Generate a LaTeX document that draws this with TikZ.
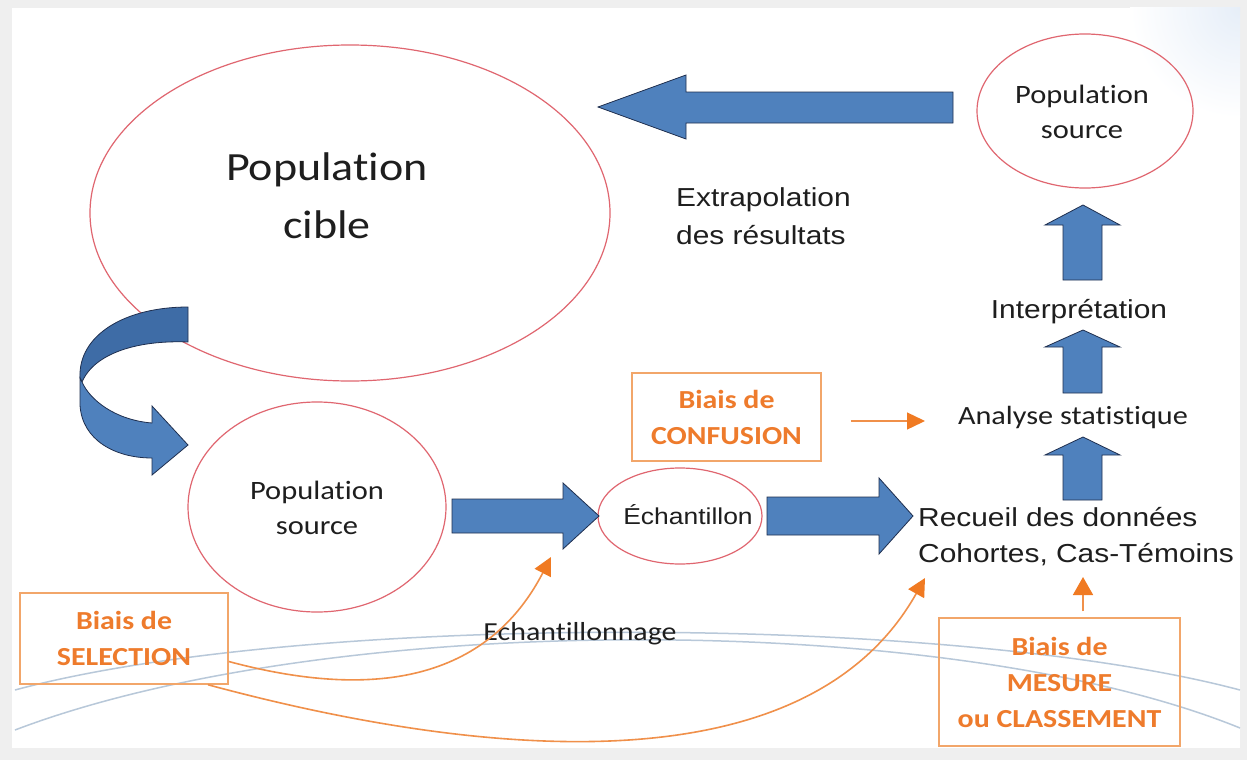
\documentclass[tikz,border=0pt]{standalone}
\usepackage{fontspec}
\usetikzlibrary{arrows.meta,shapes.geometric}
\newfontfamily\arialf[FakeStretch=1.15]{Liberation Sans}
\newfontfamily\calf[FakeStretch=1.15,Ligatures=NoCommon]{Carlito}
\definecolor{bluefill}{HTML}{4F81BD}
\definecolor{bluedark}{HTML}{3E6CA6}
\definecolor{blueline}{HTML}{1F2F4F}
\definecolor{ellred}{HTML}{E06670}
\definecolor{orangetxt}{HTML}{EE7B2C}
\definecolor{orangebox}{HTML}{F2A66A}
\definecolor{orangeline}{HTML}{F0904A}
\definecolor{orangehead}{HTML}{F07A22}
\definecolor{arcblue}{HTML}{B8C8D9}
\definecolor{txtc}{HTML}{1E1E1E}
\definecolor{framegray}{HTML}{EFEFEF}
\definecolor{tint}{HTML}{E6EEF8}
\begin{document}
\begin{tikzpicture}[x=1pt,y=-1pt,
  ell/.style={ellipse,draw=ellred,line width=1.2pt,inner sep=0pt},
  blk/.style={fill=bluefill,draw=blueline,line width=0.8pt,line join=miter},
  obox/.style={draw=orangebox,line width=1.5pt,text=orangetxt,align=center,
    font=\calf\bfseries\fontsize{26}{36}\selectfont,inner sep=0pt},
  oarrow/.style={draw=orangeline,line width=1.6pt,-{Triangle[length=18pt,width=18pt,color=orangehead]}},
  lbl/.style={text=txtc,inner sep=0pt},
  arc/.style={draw=arcblue,line width=1.5pt}
]
\useasboundingbox (0,0) rectangle (1247,760);
\fill[framegray] (0,0) rectangle (1247,760);
\fill[white] (12,8) rectangle (1240,748);
\begin{scope}
\clip (12,8) rectangle (1240,748);
\shade[inner color=tint,outer color=white] (1240,8) circle (110);
\end{scope}

% background arcs
\draw[arc] (15,690) .. controls (300,613) and (950,613) .. (1240,690);
\draw[arc] (15,730) .. controls (330,610) and (950,610) .. (1240,728);

% ellipses
\node[ell,minimum width=520pt,minimum height=336pt] (cibleE) at (350,213) {};
\node[ell,minimum width=216pt,minimum height=154pt] (ps2E) at (1085,111) {};
\node[ell,minimum width=258pt,minimum height=210pt] (ps1E) at (317,507) {};
\node[ell,minimum width=164pt,minimum height=96pt] (echE) at (680,516) {};

% texts
\node[lbl,align=center,font=\calf\fontsize{40}{58}\selectfont] (cible) at (327,196) {Population\\cible};
\node[lbl,align=center,font=\calf\fontsize{26.5}{35}\selectfont] (ps1) at (317,508) {Population\\source};
\node[lbl,align=center,font=\calf\fontsize{26.5}{35}\selectfont] (ps2) at (1082,112) {Population\\source};
\node[lbl,anchor=west,align=left,font=\arialf\fontsize{26}{38}\selectfont] (extra) at (676,216) {Extrapolation\\des résultats};
\node[lbl,font=\arialf\fontsize{26}{34}\selectfont] (interp) at (1079,312) {Interprétation};
\node[lbl,font=\calf\fontsize{26.3}{34}\selectfont] (anal) at (1073,417) {Analyse statistique};
\node[lbl,font=\arialf\fontsize{23}{30}\selectfont] (ech) at (688,515) {Échantillon};
\node[lbl,anchor=west,align=left,font=\arialf\fontsize{26}{36}\selectfont] (rec) at (918,537) {Recueil des données\\Cohortes, Cas-Témoins};
\node[lbl,font=\calf\fontsize{26}{34}\selectfont] (echg) at (580,634) {Echantillonnage};

% orange boxes
\node[obox,minimum width=189pt,minimum height=88pt] (conf) at (726.5,417) {Biais de\\CONFUSION};
\node[obox,minimum width=208pt,minimum height=91pt] (sel) at (124,638.5) {Biais de\\SELECTION};
\node[obox,minimum width=241pt,minimum height=128pt] (mes) at (1059.5,682) {Biais de\\MESURE\\ou CLASSEMENT};

% blue block arrows
\path[blk] (953,92) -- (686,92) -- (686,75) -- (598,107) -- (686,139) -- (686,123) -- (953,123) -- cycle;
\path[blk] (452,499) -- (563,499) -- (563,483) -- (599,516) -- (563,549) -- (563,533) -- (452,533) -- cycle;
\path[blk] (767,497) -- (879,497) -- (879,478) -- (913,516) -- (879,554) -- (879,535) -- (767,535) -- cycle;
\path[blk] (1063,280) -- (1063,225) -- (1045,225) -- (1083,205) -- (1120,225) -- (1102,225) -- (1102,280) -- cycle;
\path[blk] (1063,393) -- (1063,347) -- (1045,347) -- (1083,330) -- (1120,347) -- (1102,347) -- (1102,393) -- cycle;
\path[blk] (1063,500) -- (1063,455) -- (1045,455) -- (1083,437) -- (1120,455) -- (1102,455) -- (1102,500) -- cycle;

% curved arrow
\path[blk,fill=bluedark] (188,307) -- (188,342) .. controls (140,340) and (95,352) .. (82,382)
  -- (80,378) .. controls (78,335) and (125,307) .. (188,307) -- cycle;
\path[blk] (80,378) -- (80,405) .. controls (82,440) and (115,458) .. (152,458) -- (152,475)
  -- (188,445) -- (152,406) -- (152,423) .. controls (115,420) and (90,400) .. (82,382) -- cycle;

% orange connectors
\coordinate (t1) at (551,557);
\coordinate (t2) at (925,578);
\coordinate (t3) at (1083,577);
\coordinate (t4) at (925,421);
\draw[oarrow] ([yshift=-23pt]sel.east) .. controls (350,694) and (480,694) .. (t1);
\draw[oarrow] ([xshift=84pt]sel.south) .. controls (450,750) and (800,800) .. (t2);
\draw[oarrow,-{Triangle[length=18pt,width=20pt,color=orangehead]}] ([xshift=23.5pt,yshift=6pt]mes.north) -- (t3);
\draw[oarrow,line width=1.3pt,-{Triangle[length=18pt,width=17pt,color=orangehead]}] ([xshift=29pt,yshift=-4pt]conf.east) -- (t4);
\end{tikzpicture}
\end{document}
